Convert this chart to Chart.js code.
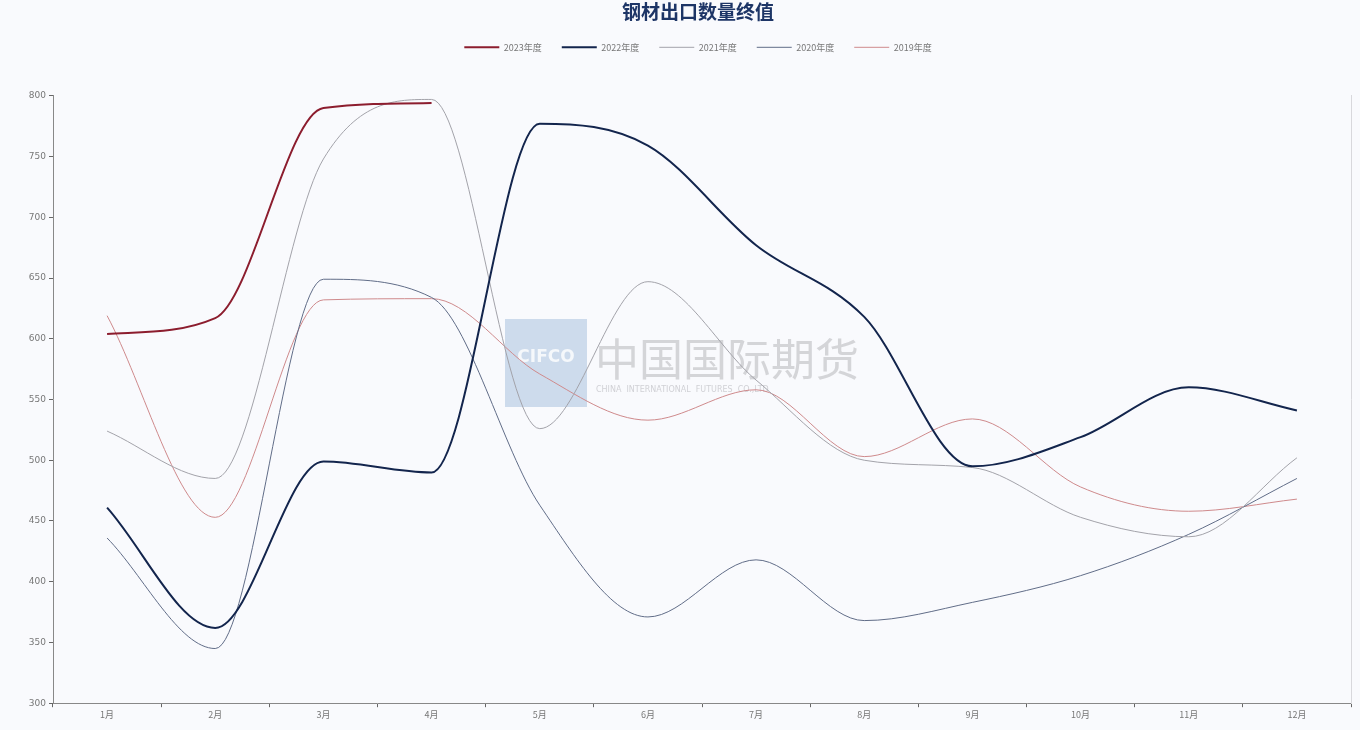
<!DOCTYPE html>
<html>
<head>
<meta charset="utf-8">
<script src="https://cdn.jsdelivr.net/npm/chart.js@4"></script>
<style>
html,body{margin:0;padding:0;background:#f9fafd;}
#wrap{width:1360px;height:730px;position:relative;}
</style>
</head>
<body>
<div id="wrap"><canvas id="c"></canvas></div>
<script>
const months = ['1月','2月','3月','4月','5月','6月','7月','8月','9月','10月','11月','12月'];
const seriesNames = ['2023年度','2022年度','2021年度','2020年度','2019年度'];
const y2023 = [604, 617, 790, 794, null, null, null, null, null, null, null, null];
const y2022 = [461, 362, 499, 490, 777, 759, 677, 618, 495, 519, 560, 541];
const y2021 = [524, 485, 748, 797, 526, 647, 566, 500, 494, 453, 437, 502];
const y2020 = [436, 345, 649, 634, 463, 371, 418, 368, 383, 405, 439, 485];
const y2019 = [619, 453, 632, 633, 571, 533, 558, 503, 534, 478, 458, 468];
const yTicks = [300, 350, 400, 450, 500, 550, 600, 650, 700, 750, 800];

const colors = ['#8c1d2e', '#13254d', '#a3a3aa', '#616d88', '#cf8a8c'];
const widths = [2, 2, 1, 1, 1];
const allData = [y2023, y2022, y2021, y2020, y2019];

const datasets = allData.map((d, i) => ({
  label: seriesNames[i],
  data: d,
  borderColor: colors[i],
  backgroundColor: colors[i],
  borderWidth: widths[i],
  pointRadius: 0,
  pointHoverRadius: 0,
  pointStyle: 'line',
  cubicInterpolationMode: 'monotone',
  fill: false,
  spanGaps: false
}));

const bgPlugin = {
  id: 'bg',
  beforeDraw(chart) {
    const ctx = chart.ctx;
    ctx.save();
    ctx.fillStyle = '#f9fafd';
    ctx.fillRect(0, 0, chart.width, chart.height);
    ctx.restore();
  }
};

const legendSpace = {
  id: 'legendSpace',
  beforeInit(chart) {
    const lg = chart.legend;
    if (!lg) return;
    const orig = lg.fit;
    lg.fit = function () { orig.call(this); this.height += 34; };
  },
  afterLayout(chart) {
    // center title and legend on the plot area instead of the full canvas
    const ca = chart.chartArea;
    const shift = (ca.left + ca.right) / 2 - chart.width / 2;
    [chart.titleBlock, chart.legend].forEach(b => {
      if (b) { b.left += shift; b.right += shift; }
    });
    if (chart.legend && chart.legend.legendHitBoxes) {
      chart.legend.legendHitBoxes.forEach(h => { h.left += shift; });
    }
  }
};

const watermark = {
  id: 'watermark',
  beforeDatasetsDraw(chart) {
    const ctx = chart.ctx;
    ctx.save();
    ctx.fillStyle = 'rgba(190,208,230,0.75)';
    ctx.fillRect(505, 319, 82, 88);
    ctx.fillStyle = 'rgba(255,255,255,0.8)';
    ctx.font = 'bold 17px "DejaVu Sans"';
    ctx.textAlign = 'center';
    ctx.textBaseline = 'middle';
    ctx.fillText('CIFCO', 546, 358);
    ctx.fillStyle = 'rgba(175,175,180,0.5)';
    ctx.font = '44px "Noto Sans CJK SC"';
    ctx.textAlign = 'left';
    ctx.textBaseline = 'alphabetic';
    ctx.fillText('中国国际期货', 595, 376);
    ctx.font = '8px "DejaVu Sans"';
    ctx.fillStyle = 'rgba(175,175,180,0.55)';
    ctx.fillText('CHINA  INTERNATIONAL  FUTURES  CO.,LTD', 596, 392);
    ctx.restore();
  }
};

new Chart(document.getElementById('c'), {
  type: 'line',
  data: { labels: months, datasets },
  plugins: [bgPlugin, legendSpace, watermark],
  options: {
    responsive: true,
    maintainAspectRatio: false,
    animation: false,
    layout: { padding: { left: 0, right: 8, top: 0, bottom: 8 } },
    plugins: {
      title: {
        display: true,
        text: '钢材出口数量终值',
        color: '#1d3566',
        font: { family: '"Noto Sans CJK SC"', size: 19, weight: 'bold' },
        padding: { top: 0, bottom: 0 }
      },
      legend: {
        display: true,
        position: 'top',
        labels: {
          usePointStyle: true,
          pointStyleWidth: 35,
          color: '#777',
          font: { family: '"Noto Sans CJK SC"', size: 9 },
          padding: 20
        }
      },
      tooltip: { enabled: false }
    },
    scales: {
      x: {
        type: 'category',
        offset: true,
        grid: { display: true, drawOnChartArea: false, offset: true, tickLength: 4, color: '#666' },
        border: { display: true, color: '#888', width: 1 },
        ticks: { color: '#777', font: { family: '"Noto Sans CJK SC"', size: 9 }, padding: 2, maxRotation: 0, autoSkip: false }
      },
      y: {
        min: 300,
        max: 800,
        afterBuildTicks(scale) { scale.ticks = yTicks.map(v => ({ value: v })); },
        afterFit(scale) { scale.width = 53; },
        grid: { display: true, drawOnChartArea: false, tickLength: 4, color: '#666' },
        border: { display: true, color: '#888', width: 1 },
        ticks: { color: '#777', font: { family: '"DejaVu Sans"', size: 9 }, padding: 3 }
      },
      yr: {
        position: 'right',
        min: 300,
        max: 800,
        grid: { display: false, drawOnChartArea: false },
        border: { display: true, color: '#d8d8dc', width: 1 },
        ticks: { display: false },
        afterFit(scale) { scale.width = 1; }
      }
    }
  }
});
</script>
</body>
</html>
